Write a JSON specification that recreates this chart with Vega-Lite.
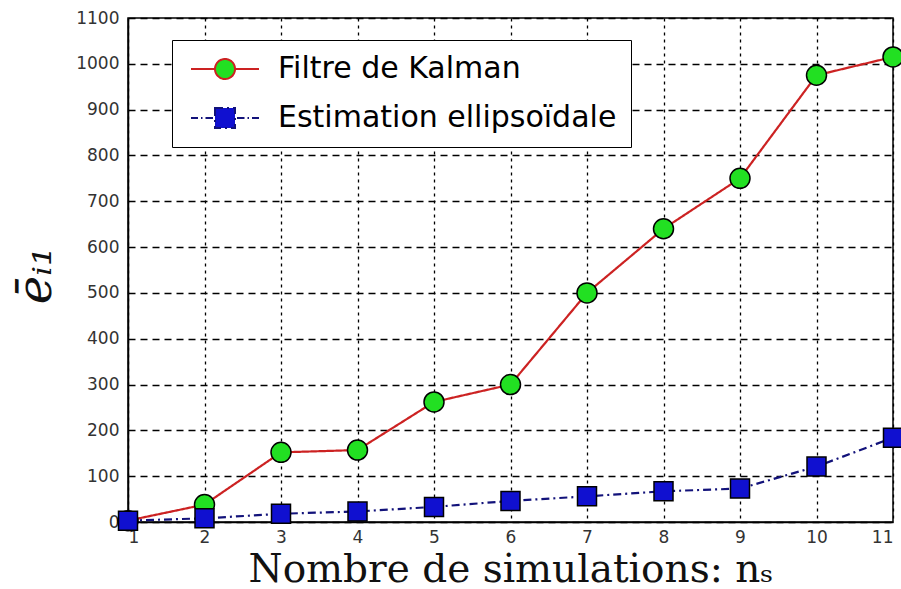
{
  "$schema": "https://vega.github.io/schema/vega-lite/v6.json",
  "width": 765,
  "height": 504,
  "autosize": {"type": "none"},
  "padding": {"left": 128, "top": 18, "right": 8, "bottom": 67},
  "background": "white",
  "config": {
    "view": {"stroke": "#000", "strokeWidth": 1.5},
    "font": "DejaVu Sans",
    "axis": {
      "domainColor": "#000", "domainWidth": 1.5,
      "gridColor": "#000", "gridOpacity": 1, "gridWidth": 1.3,
      "ticks": false, "tickSize": 0
    }
  },
  "data": {"values": [
    {"n": 1, "series": "Filtre de Kalman", "e": 3},
    {"n": 2, "series": "Filtre de Kalman", "e": 38},
    {"n": 3, "series": "Filtre de Kalman", "e": 152},
    {"n": 4, "series": "Filtre de Kalman", "e": 157},
    {"n": 5, "series": "Filtre de Kalman", "e": 262},
    {"n": 6, "series": "Filtre de Kalman", "e": 300},
    {"n": 7, "series": "Filtre de Kalman", "e": 500},
    {"n": 8, "series": "Filtre de Kalman", "e": 640},
    {"n": 9, "series": "Filtre de Kalman", "e": 750},
    {"n": 10, "series": "Filtre de Kalman", "e": 975},
    {"n": 11, "series": "Filtre de Kalman", "e": 1015},
    {"n": 1, "series": "Estimation ellipsoïdale", "e": 3},
    {"n": 2, "series": "Estimation ellipsoïdale", "e": 8},
    {"n": 3, "series": "Estimation ellipsoïdale", "e": 18},
    {"n": 4, "series": "Estimation ellipsoïdale", "e": 23},
    {"n": 5, "series": "Estimation ellipsoïdale", "e": 33},
    {"n": 6, "series": "Estimation ellipsoïdale", "e": 46},
    {"n": 7, "series": "Estimation ellipsoïdale", "e": 56},
    {"n": 8, "series": "Estimation ellipsoïdale", "e": 67},
    {"n": 9, "series": "Estimation ellipsoïdale", "e": 73},
    {"n": 10, "series": "Estimation ellipsoïdale", "e": 121},
    {"n": 11, "series": "Estimation ellipsoïdale", "e": 184}
  ]},
  "encoding": {
    "x": {
      "field": "n", "type": "quantitative",
      "scale": {"domain": [1, 11], "nice": false, "zero": false},
      "axis": {
        "values": [1, 2, 3, 4, 5, 6, 7, 8, 9, 10, 11],
        "format": "d",
        "gridDash": [3, 4],
        "labelFont": "DejaVu Sans", "labelFontSize": 17, "labelColor": "#333", "labelPadding": 7,
        "title": "Nombre de simulations: nₛ",
        "titleFont": "DejaVu Serif", "titleFontSize": 39, "titleFontWeight": "normal",
        "titleColor": "#111", "titleY": 59, "titleBaseline": "alphabetic"
      }
    },
    "y": {
      "field": "e", "type": "quantitative",
      "scale": {"domain": [0, 1100], "nice": false},
      "axis": {
        "values": [0, 100, 200, 300, 400, 500, 600, 700, 800, 900, 1000, 1100],
        "format": "d",
        "gridDash": [7, 5],
        "labelFont": "DejaVu Sans", "labelFontSize": 17, "labelColor": "#333", "labelPadding": 9,
        "title": "ēᵢ₁",
        "titleFont": "DejaVu Serif", "titleFontStyle": "italic", "titleFontSize": 48,
        "titleFontWeight": "normal", "titleColor": "#111",
        "titleX": -92, "titleY": 257, "titleAlign": "center", "titleBaseline": "middle", "titleAngle": -90
      }
    }
  },
  "layer": [
    {
      "mark": {"type": "line", "strokeWidth": 2.2},
      "encoding": {
        "stroke": {
          "field": "series", "type": "nominal",
          "scale": {"domain": ["Filtre de Kalman", "Estimation ellipsoïdale"], "range": ["#cc2222", "#12127a"]},
          "legend": {
            "title": null,
            "orient": "none",
            "legendX": 44, "legendY": 22,
            "padding": 14,
            "strokeColor": "#000", "fillColor": "#fff", "cornerRadius": 0,
            "symbolOffset": 24, "labelOffset": 38,
            "symbolSize": 400, "symbolStrokeWidth": 2, "symbolOpacity": 1,
            "labelFont": "DejaVu Sans", "labelFontSize": 30, "labelColor": "#000",
            "labelLimit": 520, "rowPadding": 19,
            "encode": {
              "symbols": {
                "update": {
                  "fill": {"signal": "datum.value === 'Filtre de Kalman' ? '#22e022' : '#1010d0'"},
                  "fillOpacity": {"value": 1},
                  "strokeDash": {"value": []},
                  "strokeWidth": {"value": 2}
                }
              }
            }
          }
        },
        "strokeDash": {
          "field": "series", "type": "nominal",
          "scale": {"domain": ["Filtre de Kalman", "Estimation ellipsoïdale"], "range": [[1, 0], [8, 4, 2, 4]]},
          "legend": null
        },
        "shape": {
          "field": "series", "type": "nominal",
          "scale": {"domain": ["Filtre de Kalman", "Estimation ellipsoïdale"], "range": [
            "M-3.4,0H-1M1,0H3.4M1,0A1,1,0,1,1,-1,0A1,1,0,1,1,1,0Z",
            "M-3.4,0H-2.7M-2.4,0H-2.25M-1.95,0H-1.2M1.2,0H1.95M2.25,0H2.4M2.7,0H3.4M-1,-1H1V1H-1Z"
          ]}
        }
      }
    },
    {
      "transform": [{"filter": "datum.series === 'Filtre de Kalman'"}],
      "mark": {"type": "point", "shape": "circle", "filled": true, "fill": "#22e022", "stroke": "#000", "strokeWidth": 1.5, "size": 400, "opacity": 1}
    },
    {
      "transform": [{"filter": "datum.series === 'Estimation ellipsoïdale'"}],
      "mark": {"type": "point", "shape": "square", "filled": true, "fill": "#1010d0", "stroke": "#000", "strokeWidth": 1.5, "size": 361, "opacity": 1}
    }
  ]
}
